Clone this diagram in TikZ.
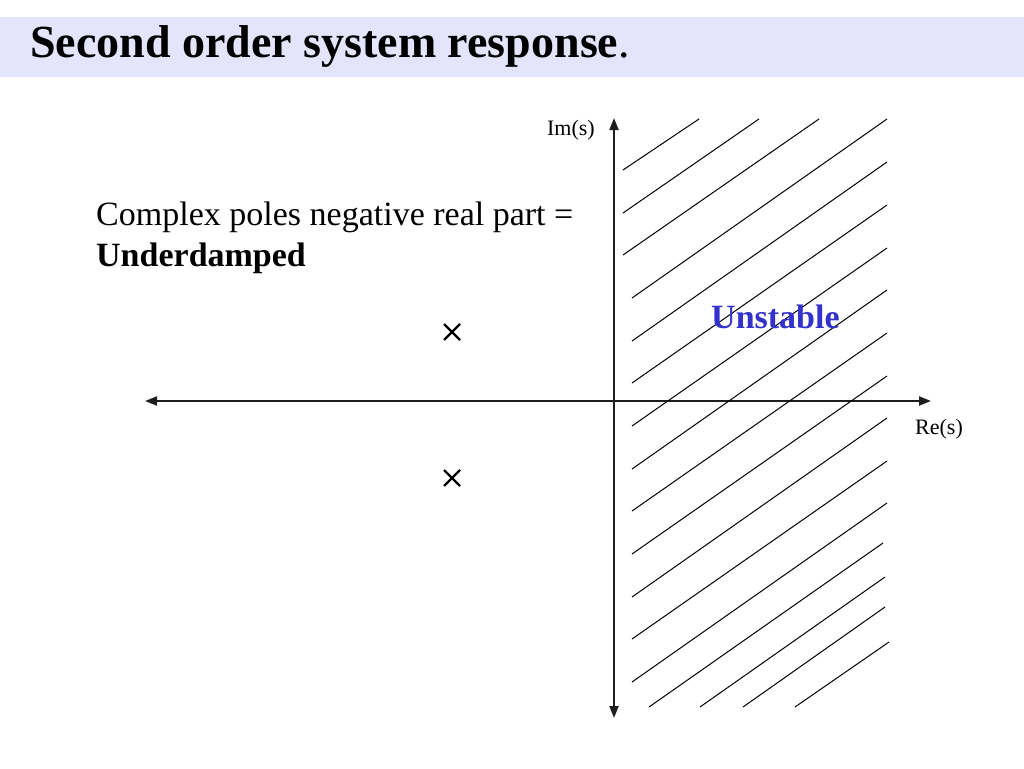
\documentclass[tikz,border=0pt]{standalone}
\usepackage{fontspec}
\setmainfont{Liberation Serif}
\usetikzlibrary{arrows.meta}
\definecolor{band}{RGB}{228,228,252}
\definecolor{unst}{RGB}{51,51,204}
\definecolor{axis}{RGB}{30,30,30}
\begin{document}
\begin{tikzpicture}[x=1pt,y=-1pt,
  axisline/.style={draw=axis,line width=2pt,{Triangle[length=12pt,width=9pt]}-{Triangle[length=12pt,width=9pt]}},
  hatch/.style={draw=black,line width=1pt},
  polemark/.style={draw=black,line width=2.4pt},
  lbl/.style={inner sep=0pt,font=\fontsize{22}{26}\selectfont},
  body/.style={inner sep=0pt,font=\fontsize{34}{41}\selectfont}]
\useasboundingbox (0,0) rectangle (1024,768);
\fill[band] (0,17) rectangle (1024,77);
\node[inner sep=0pt,anchor=base west,font=\fontsize{46}{52}\selectfont] (title) at (30,57) {\textbf{Second order system response}.};
% axes
\coordinate (L) at (145,401);
\coordinate (R) at (931,401);
\coordinate (T) at (614,118);
\coordinate (B) at (614,718);
\draw[axisline] (L) -- (R);
\draw[axisline] (B) -- (T);
\node[lbl,anchor=base east] (im) at (595,135) {Im(s)};
\node[lbl,anchor=base west] (re) at (915,434) {Re(s)};
% hatching
\foreach \xa/\ya/\xb/\yb in {623/170/699/119, 623/213/759/119, 623/255/819/119,
  632/298/887/119, 632/341/887/162, 632/383/887/205, 632/426/887/248,
  632/469/887/290, 632/511/887/333, 632/554/887/376, 632/597/887/418,
  632/639/887/461, 632/682/887/503, 649/707/883/543, 700/707/885/577,
  743/707/885/607, 795/707/889/642}
  \draw[hatch] (\xa,\ya) -- (\xb,\yb);
\node[body,anchor=base west,text=unst,font=\fontsize{34}{41}\selectfont\bfseries] (unstable) at (711,328) {Unstable};
% text
\node[body,anchor=base west] (t1) at (96,225) {Complex poles negative real part =};
\node[body,anchor=base west,font=\fontsize{34}{41}\selectfont\bfseries] (t2) at (96,266) {Underdamped};
% poles
\coordinate (p1) at (452,332);
\coordinate (p2) at (452,478);
\foreach \p in {p1,p2}{
  \draw[polemark] ([shift={(-8,-8)}]\p) -- ([shift={(8,8)}]\p);
  \draw[polemark] ([shift={(-8,8)}]\p) -- ([shift={(8,-8)}]\p);
}
\end{tikzpicture}
\end{document}
